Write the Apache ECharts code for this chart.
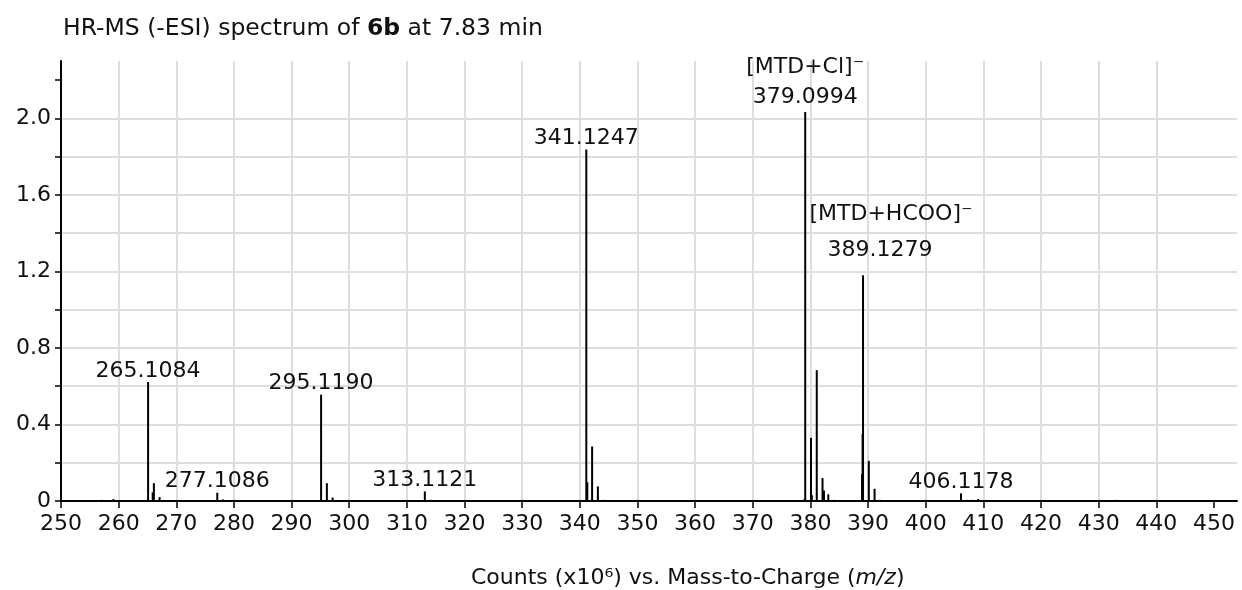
<!DOCTYPE html>
<html><head><meta charset="utf-8">
<script src="https://cdn.jsdelivr.net/npm/echarts@6/dist/echarts.min.js"></script>
<style>html,body{margin:0;padding:0;background:#fff}#c{width:1242px;height:590px}</style>
</head><body><div id="c"></div>
<script>
// m/z positions of the centroid sticks
const mzValues = [257.1, 259.1, 265.1084, 265.9, 266.11, 267.11, 277.1086, 278.11,
  295.1190, 296.12, 297.12, 313.1121, 314.12, 325.2,
  341.1247, 341.3, 342.13, 343.13, 344.13,
  378.9, 379.0994, 380.10, 380.25, 381.10, 382.10, 382.35, 383.10, 384.1,
  388.95, 389.05, 389.1279, 390.13, 391.13, 392.1,
  406.1178, 407.1, 408.1, 409.1, 433.0];
// intensities, counts x10^6
const intensities = [0.006, 0.01, 0.622, 0.045, 0.093, 0.02, 0.043, 0.008,
  0.556, 0.093, 0.018, 0.05, 0.006, 0.005,
  1.838, 0.098, 0.285, 0.076, 0.006,
  0.008, 2.034, 0.33, 0.03, 0.684, 0.12, 0.055, 0.035, 0.006,
  0.14, 0.35, 1.18, 0.21, 0.064, 0.006,
  0.04, 0.006, 0.006, 0.01, 0.006];
const xTickValues = [250,260,270,280,290,300,310,320,330,340,350,360,370,380,390,400,410,420,430,440,450];
const yTickValues = [0,0.2,0.4,0.6,0.8,1.0,1.2,1.4,1.6,1.8,2.0,2.2];
const yLabelValues = [0,0.4,0.8,1.2,1.6,2.0];
const peakLabelMz = [265.1084, 277.1086, 295.1190, 313.1121, 341.1247, 406.1178];
const ionLabelMz = [379.0994, 389.1279];
const ionLabelText = ['[MTD+Cl]⁻', '[MTD+HCOO]⁻'];
const titleParts = ['HR-MS (-ESI) spectrum of ', '6b', ' at 7.83 min'];
const xNameParts = ['Counts (x10⁶) vs. Mass-to-Charge (', 'm/z', ')'];

const FONT = 'DejaVu Sans';
const data = mzValues.map((mz, i) => {
  const item = { value: [mz, intensities[i]] };
  if (peakLabelMz.includes(mz)) {
    item.label = { show: true, formatter: mz.toFixed(4) };
  }
  const k = ionLabelMz.indexOf(mz);
  if (k === 0) {
    item.label = { show: true, formatter: '{ion|' + ionLabelText[k] + '}\n{num|' + mz.toFixed(4) + '}' };
  } else if (k === 1) {
    item.label = { show: true, offset: [17, -7], formatter: '{ion2|' + ionLabelText[k] + '}\n{num2|' + mz.toFixed(4) + '}' };
  }
  return item;
});

const chart = echarts.init(document.getElementById('c'), null, { renderer: 'canvas' });
chart.setOption({
  animation: false,
  backgroundColor: '#fff',
  textStyle: { fontFamily: FONT },
  title: [{
    left: 58, top: 12,
    text: '{n|' + titleParts[0] + '}{b|' + titleParts[1] + '}{n|' + titleParts[2] + '}',
    textStyle: { fontWeight: 'normal', rich: {
      n: { fontFamily: FONT, fontSize: 23.5, fontWeight: 'normal', color: '#111' },
      b: { fontFamily: FONT, fontSize: 23.5, fontWeight: 'bold', color: '#111' }
    } }
  }, {
    left: 466, top: 562,
    text: '{n|' + xNameParts[0] + '}{i|' + xNameParts[1] + '}{n|' + xNameParts[2] + '}',
    textStyle: { fontWeight: 'normal', rich: {
      n: { fontFamily: FONT, fontSize: 22, fontWeight: 'normal', color: '#111' },
      i: { fontFamily: FONT, fontSize: 22, fontWeight: 'normal', fontStyle: 'italic', color: '#111' }
    } }
  }],
  grid: { left: 61, right: 5, top: 61, bottom: 89, containLabel: false },
  xAxis: {
    type: 'value', min: 250, max: 454, interval: 10,
    axisLine: { show: true, lineStyle: { color: '#000', width: 2 } },
    axisTick: { show: true, length: 7, lineStyle: { color: '#000', width: 1.5 }, customValues: xTickValues },
    axisLabel: { customValues: xTickValues, margin: 12, fontFamily: FONT, fontSize: 22, color: '#111' },
    splitLine: { show: true, showMaxLine: false, lineStyle: { color: '#dedede', width: 2 } }
  },
  yAxis: {
    type: 'value', min: 0, max: 2.3, interval: 0.2,
    axisLine: { show: true, lineStyle: { color: '#000', width: 2 } },
    axisTick: { show: true, length: 6, lineStyle: { color: '#000', width: 1.5 }, customValues: yTickValues },
    axisLabel: { customValues: yLabelValues, margin: 10, fontFamily: FONT, fontSize: 22, color: '#111',
      formatter: v => v === 0 ? '0' : v.toFixed(1) },
    splitLine: { show: true, showMaxLine: false, lineStyle: { color: '#dedede', width: 2 } }
  },
  series: [{
    type: 'bar',
    barWidth: 2,
    itemStyle: { color: '#000' },
    label: {
      show: false, position: 'top', distance: 0,
      fontFamily: FONT, fontSize: 22, color: '#111',
      rich: {
        ion: { fontFamily: FONT, fontSize: 22, color: '#111', lineHeight: 30 },
        num: { fontFamily: FONT, fontSize: 22, color: '#111', lineHeight: 30 },
        ion2: { fontFamily: FONT, fontSize: 22, color: '#111', lineHeight: 36, padding: [0, 0, 0, 22] },
        num2: { fontFamily: FONT, fontSize: 22, color: '#111', lineHeight: 36 }
      }
    },
    data: data
  }]
});
</script>
</body></html>
